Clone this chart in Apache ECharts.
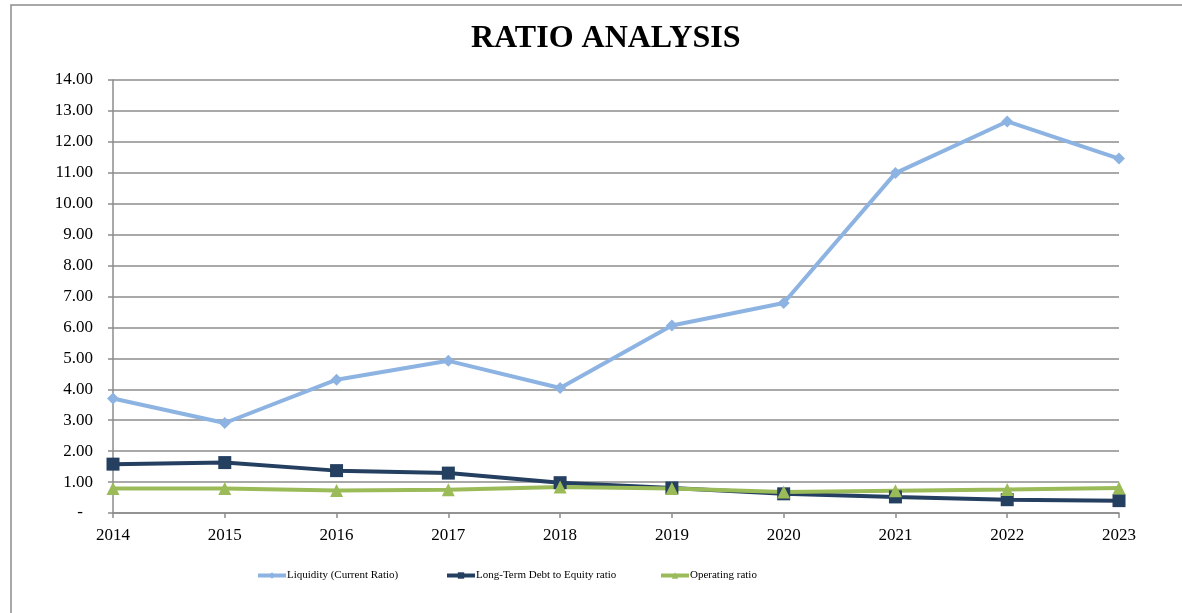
<!DOCTYPE html>
<html>
<head>
<meta charset="utf-8">
<script src="https://cdn.jsdelivr.net/npm/echarts@6/dist/echarts.min.js"></script>
<style>
html,body{margin:0;padding:0;background:#fff;}
#chart{width:1182px;height:613px;}
</style>
</head>
<body>
<div id="chart"></div>
<script>
const years = ['2014','2015','2016','2017','2018','2019','2020','2021','2022','2023'];
const liquidity = [3.70, 2.91, 4.31, 4.92, 4.04, 6.06, 6.79, 10.99, 12.66, 11.46];
const debtToEquity = [1.58, 1.63, 1.37, 1.29, 0.98, 0.81, 0.62, 0.52, 0.43, 0.40];
const operating = [0.79, 0.79, 0.73, 0.75, 0.84, 0.79, 0.68, 0.72, 0.76, 0.81];
const seriesNames = ['Liquidity (Current Ratio)', 'Long-Term Debt to Equity ratio', 'Operating ratio'];

const font = '"Liberation Serif","Times New Roman",serif';
const chart = echarts.init(document.getElementById('chart'));
const legendBase = {
  top: 570, itemWidth: 28, itemHeight: 8, itemGap: 2, padding: 0,
  lineStyle: {width: 4},
  textStyle: {fontFamily: font, fontSize: 11, color: '#000', padding: [0,0,0,-4]}
};
chart.setOption({
  backgroundColor: '#fff',
  animation: false,
  title: {
    text: 'RATIO ANALYSIS', left: 466, top: 18,
    textStyle: {fontFamily: font, fontSize: 32, fontWeight: 'bold', color: '#000'}
  },
  graphic: [{
    type: 'rect', shape: {x: 11, y: 5, width: 1300, height: 800},
    style: {fill: 'none', stroke: '#8c8c8c', lineWidth: 1.5}, silent: true
  }],
  legend: [
    Object.assign({}, legendBase, {left: 256, data: [seriesNames[0]]}),
    Object.assign({}, legendBase, {left: 445, data: [seriesNames[1]]}),
    Object.assign({}, legendBase, {left: 659, data: [seriesNames[2]]})
  ],
  grid: {left: 113, right: 63, top: 80, bottom: 100},
  xAxis: {
    type: 'category', data: years, boundaryGap: false,
    axisLine: {lineStyle: {color: '#8c8c8c', width: 1.5}},
    axisTick: {show: true, length: 5, lineStyle: {color: '#8c8c8c', width: 1.5}},
    axisLabel: {fontFamily: font, fontSize: 17, color: '#000', margin: 14}
  },
  yAxis: {
    type: 'value', min: 0, max: 14, interval: 1,
    axisLine: {show: true, lineStyle: {color: '#8c8c8c', width: 1.5}},
    axisTick: {show: true, length: 5, lineStyle: {color: '#8c8c8c', width: 1.5}},
    splitLine: {lineStyle: {color: '#8c8c8c', width: 1.5}},
    axisLabel: {
      fontFamily: font, fontSize: 17, color: '#000', margin: 20,
      formatter: v => v === 0 ? '{d|-}' : v.toFixed(2),
      rich: {d: {fontFamily: font, fontSize: 17, color: '#000', padding: [0, 10, 0, 0]}}
    }
  },
  series: [
    {
      name: seriesNames[0], type: 'line', data: liquidity,
      symbol: 'diamond', symbolSize: 12,
      lineStyle: {color: '#8db3e2', width: 4},
      itemStyle: {color: '#8db3e2'}
    },
    {
      name: seriesNames[1], type: 'line', data: debtToEquity,
      symbol: 'rect', symbolSize: 13,
      lineStyle: {color: '#243f60', width: 4},
      itemStyle: {color: '#243f60'}
    },
    {
      name: seriesNames[2], type: 'line', data: operating,
      symbol: 'triangle', symbolSize: 13,
      lineStyle: {color: '#9bbb59', width: 4},
      itemStyle: {color: '#9bbb59'}
    }
  ]
});
</script>
</body>
</html>
